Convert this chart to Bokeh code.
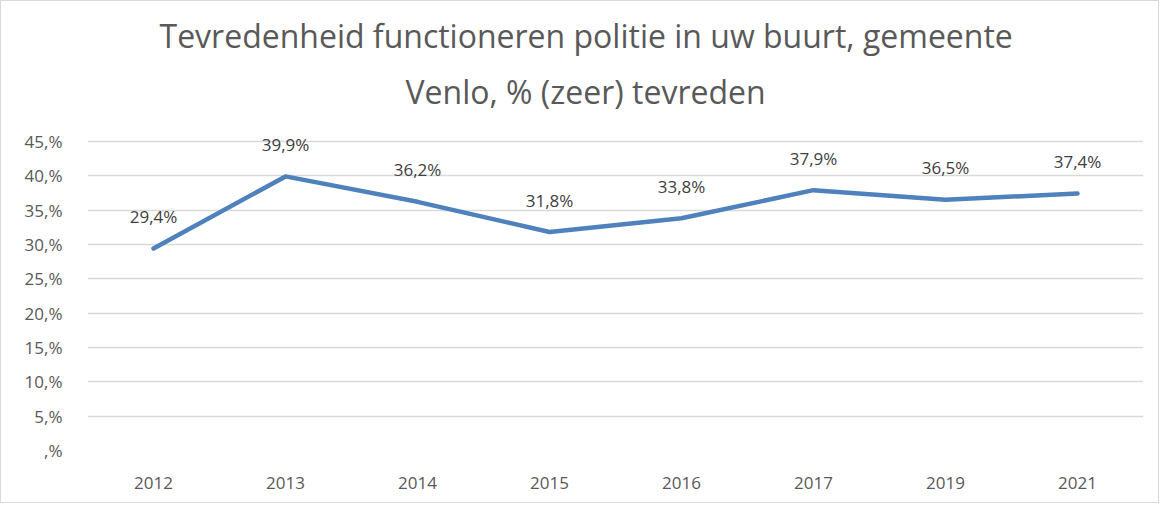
from bokeh.plotting import figure
from bokeh.models import FactorRange, Range1d, FixedTicker, Title, ColumnDataSource, LabelSet
from bokeh.core.properties import value
from bokeh.embed import file_html
from bokeh.resources import INLINE

years = ["2012", "2013", "2014", "2015", "2016", "2017", "2019", "2021"]
values = [29.4, 39.9, 36.2, 31.8, 33.8, 37.9, 36.5, 37.4]
value_labels = ["29,4%", "39,9%", "36,2%", "31,8%", "33,8%", "37,9%", "36,5%", "37,4%"]
y_ticks = [0, 5, 10, 15, 20, 25, 30, 35, 40, 45]
y_tick_labels = [",%", "5,%", "10,%", "15,%", "20,%", "25,%", "30,%", "35,%", "40,%", "45,%"]
title_lines = ["Tevredenheid functioneren politie in uw buurt, gemeente", "Venlo, % (zeer) tevreden"]

FONT = "Open Sans"
p = figure(width=1159, height=503, x_range=FactorRange(*years), y_range=Range1d(0, 46),
           output_backend="svg", toolbar_location=None,
           min_border_left=86, min_border_right=17, min_border_bottom=54, min_border_top=10)
p.outline_line_color = None
p.styles = {"border": "1.5px solid #d9d9d9"}

p.add_layout(Title(text=" ", align="left", text_font=FONT, text_font_size="10px", standoff=6), "above")
p.add_layout(Title(text=title_lines[1], align="left", offset=318, text_font=FONT, text_font_size="32px",
                   text_font_style="normal", text_color="#595959", standoff=0), "above")
p.add_layout(Title(text=title_lines[0], align="left", offset=72, text_font=FONT, text_font_size="32px",
                   text_font_style="normal", text_color="#595959", standoff=21), "above")

src = ColumnDataSource(dict(x=years, y=values, lab=value_labels))
p.line("x", "y", source=src, line_color="#4f81bd", line_width=4.5, line_cap="round", line_join="round")
labels = LabelSet(x="x", y="y", text="lab", source=src, text_align="center", text_baseline="middle",
                  y_offset=32, text_font=value(FONT), text_font_size=value("17px"), text_color="#404040")
p.add_layout(labels)

p.yaxis.ticker = FixedTicker(ticks=y_ticks)
p.yaxis.major_label_overrides = {t: l for t, l in zip(y_ticks, y_tick_labels)}
for ax in (p.xaxis, p.yaxis):
    ax.axis_line_color = None
    ax.major_tick_line_color = None
    ax.minor_tick_line_color = None
    ax.major_label_text_font = FONT
    ax.major_label_text_font_size = "17px"
    ax.major_label_text_color = "#595959"
p.yaxis.major_label_standoff = 19
p.xaxis.major_label_standoff = 20
p.xgrid.grid_line_color = None
p.ygrid.grid_line_color = "#d9d9d9"
p.ygrid.grid_line_width = 1.5

open("out.html", "w").write(file_html(p, INLINE))
